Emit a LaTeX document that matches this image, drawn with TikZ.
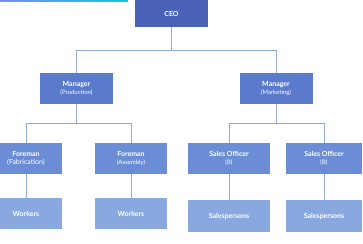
\documentclass[tikz,border=0pt]{standalone}
\usepackage{fontspec}
\setmainfont{Lato}
\definecolor{ceoblue}{HTML}{4A63B9}
\definecolor{mgrblue}{HTML}{5A7ACB}
\definecolor{forblue}{HTML}{6B8DD6}
\definecolor{wrkblue}{HTML}{8AA8E0}
\definecolor{linkblue}{HTML}{93AAD2}
\definecolor{barcyan}{HTML}{10C8E0}
\definecolor{barviolet}{HTML}{7B8BE8}
\begin{document}
\begin{tikzpicture}[
  x=1pt, y=1pt,
  every node/.style={inner sep=0pt, text=white, align=center, font=\fontsize{7}{8}\selectfont\bfseries},
  box/.style={rectangle, minimum width=72pt, minimum height=31pt},
  ceobox/.style={box, fill=ceoblue, minimum width=73pt, minimum height=27pt},
  mgrbox/.style={box, fill=mgrblue, minimum width=73pt},
  forbox/.style={box, fill=forblue},
  wrkbox/.style={box, fill=wrkblue},
  link/.style={draw=linkblue, line width=0.8pt}
]
\newcommand{\subtxt}[1]{{\fontsize{6}{7}\selectfont\mdseries #1}}
\useasboundingbox (0,0) rectangle (363,-243);
\shade[left color=barviolet, right color=barcyan] (0,0) rectangle (128,-2);

\node[ceobox] (ceo) at (171.5,-13.5) {CEO};

\node[mgrbox] (mprod) at (76.5,-88.5) {Manager\\[-0.5pt]\subtxt{(Production)}};
\node[mgrbox] (mmark) at (276,-88.5) {Manager\\[-0.5pt]\subtxt{(Marketing)}};

\node[forbox] (ffab) at (26,-158.5) {Foreman\\[-0.5pt]{\mdseries (Fabrication)}};
\node[forbox] (fass) at (131,-158.5) {Foreman\\[-0.5pt]\subtxt{(Assembly)}};
\node[forbox, minimum width=82pt] (so1) at (229,-158.5) {Sales Officer\\[-0.5pt]\subtxt{(B)}};
\node[forbox, minimum width=76pt] (so2) at (324,-158.5) {Sales Officer\\[-0.5pt]\subtxt{(B)}};

\node[wrkbox] (w1) at (26,-213.5) {Workers};
\node[wrkbox] (w2) at (131,-213.5) {Workers};
\node[wrkbox, minimum width=82pt, minimum height=32pt] (sp1) at (229,-216) {Salespersons};
\node[wrkbox, minimum width=76pt, minimum height=32pt] (sp2) at (324,-216) {Salespersons};

% reporting lines
\draw[link] (ceo.south) |- (76.5,-50) -- (mprod.north);
\draw[link] (ceo.south) |- (276,-50) -- (mmark.north);
\draw[link] (mprod.south) |- (26,-123) -- (ffab.north);
\draw[link] (mprod.south) |- (131,-123) -- (fass.north);
\draw[link] (mmark.south) |- (229,-123) -- (so1.north);
\draw[link] (mmark.south) |- (324,-123) -- (so2.north);
\draw[link] (ffab) -- (w1);
\draw[link] (fass) -- (w2);
\draw[link] (so1) -- (sp1);
\draw[link] (so2) -- (sp2);
\end{tikzpicture}
\end{document}
